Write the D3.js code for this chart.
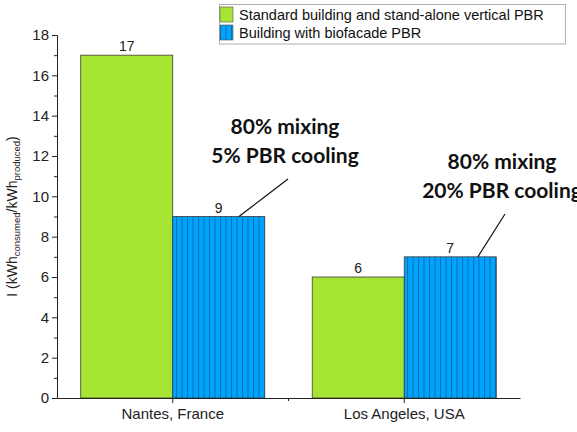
<!DOCTYPE html>
<html>
<head>
<meta charset="utf-8">
<script src="https://cdn.jsdelivr.net/npm/d3@7"></script>
<style>
  body { margin: 0; background: #fff; }
  svg { display: block; font-family: "Liberation Sans", Arial, sans-serif; }
</style>
</head>
<body>
<svg id="chart" width="577" height="432"></svg>
<script>
// Locations and the two building configurations
const locations = ["Nantes, France", "Los Angeles, USA"];
const seriesNames = ["Standard building and stand-alone vertical PBR", "Building with biofacade PBR"];
const standardValues = [17, 6];
const biofacadeValues = [9, 7];
const yTicks = [0, 2, 4, 6, 8, 10, 12, 14, 16, 18];
const yMinorTicks = [1, 3, 5, 7, 9, 11, 13, 15, 17];
const notes = [
  { loc: "Nantes, France", lines: ["80% mixing", "5% PBR cooling"] },
  { loc: "Los Angeles, USA", lines: ["80% mixing", "20% PBR cooling"] }
];

const svg = d3.select("#chart");
const margin = { left: 57, right: 57, top: 35, bottom: 34 };
const W = 577, H = 432;
const green = "#a6e533", blue = "#00a3fe";

const x = d3.scaleBand().domain(locations).range([margin.left, W - margin.right]).paddingInner(0).paddingOuter(0);
const groupW = x.bandwidth() * 0.795;
const xs = d3.scaleBand().domain([0, 1]).range([0, groupW]);
const y = d3.scaleLinear().domain([0, 18]).range([H - margin.bottom, margin.top]);

// vertical-stripe fill for the biofacade series
const defs = svg.append("defs");
const pat = defs.append("pattern").attr("id", "stripes")
  .attr("patternUnits", "userSpaceOnUse").attr("width", 5.5).attr("height", 10);
pat.append("rect").attr("width", 5.5).attr("height", 10).attr("fill", blue);
pat.append("line").attr("x1", 0.5).attr("x2", 0.5).attr("y1", 0).attr("y2", 10)
  .attr("stroke", "#0a6fae").attr("stroke-width", 1);

const fills = [green, "url(#stripes)"];
const rows = locations.map((loc, i) => ({ loc, vals: [standardValues[i], biofacadeValues[i]] }));

const g = svg.append("g");
rows.forEach(r => {
  const gx = x(r.loc) + (x.bandwidth() - groupW) / 2;
  r.vals.forEach((v, k) => {
    g.append("rect")
      .attr("x", gx + xs(k)).attr("y", y(v))
      .attr("width", xs.bandwidth()).attr("height", y(0) - y(v))
      .attr("fill", fills[k]).attr("stroke", "#3a3a3a").attr("stroke-width", 0.8);
    g.append("text")
      .attr("x", gx + xs(k) + xs.bandwidth() / 2).attr("y", y(v) - 4)
      .attr("text-anchor", "middle").attr("font-size", 14).attr("fill", "#222")
      .text(v);
  });
});

// axes
const yAxis = d3.axisLeft(y).tickValues(yTicks).tickSize(5).tickPadding(3);
const ya = svg.append("g").attr("transform", `translate(${margin.left},0)`).call(yAxis);
ya.selectAll("text").attr("font-size", 15).attr("fill", "#222").attr("font-family", "Liberation Sans, Arial, sans-serif");
ya.select(".domain").attr("stroke", "#222");
ya.selectAll(".tick line").attr("stroke", "#222");
svg.append("g").attr("transform", `translate(${margin.left},0)`)
  .call(d3.axisLeft(y).tickValues(yMinorTicks).tickSize(3).tickFormat(""))
  .call(s => s.select(".domain").remove())
  .selectAll("line").attr("stroke", "#222");

const xAxis = d3.axisBottom(x).tickSize(5).tickPadding(5).tickSizeOuter(0);
const xa = svg.append("g").attr("transform", `translate(0,${y(0)})`).call(xAxis);
xa.selectAll("text").attr("font-size", 15).attr("fill", "#222").attr("font-family", "Liberation Sans, Arial, sans-serif");
xa.select(".domain").attr("stroke", "#222");
xa.selectAll(".tick line").attr("stroke", "#222");
// minor tick between the two groups
svg.append("line")
  .attr("x1", x(locations[1])).attr("x2", x(locations[1]))
  .attr("y1", y(0)).attr("y2", y(0) + 3).attr("stroke", "#222");

// y-axis title with subscripts
const yt = svg.append("text")
  .attr("transform", `translate(17,${(y(0) + y(18)) / 2}) rotate(-90)`)
  .attr("text-anchor", "middle").attr("font-size", 14).attr("fill", "#222");
yt.append("tspan").text("I (kWh");
yt.append("tspan").attr("font-size", 9.5).attr("dy", 3).text("consumed");
yt.append("tspan").attr("dy", -3).text("/kWh");
yt.append("tspan").attr("font-size", 9.5).attr("dy", 3).text("produced");
yt.append("tspan").attr("dy", -3).text(")");

// legend
const lg = svg.append("g");
lg.append("rect").attr("x", 219.5).attr("y", 4.5).attr("width", 346).attr("height", 39.5)
  .attr("fill", "#fff").attr("stroke", "#b0b0b0");
seriesNames.forEach((name, k) => {
  lg.append("rect").attr("x", 220).attr("y", 7 + k * 18).attr("width", 13).attr("height", 15)
    .attr("fill", fills[k]).attr("stroke", "#555").attr("stroke-width", 0.6);
  lg.append("text").attr("x", 239).attr("y", 20 + k * 18)
    .attr("font-size", 14.5).attr("fill", "#111").text(name);
});

// annotations with leader lines to the biofacade bars
const notePos = [
  { tx: 285, ty: 127, lx1: 0.72, lx2: 288, ly2: 179 },
  { tx: 502, ty: 162, lx1: 0.8, lx2: 505, ly2: 214 }
];
notes.forEach((n, i) => {
  const p = notePos[i];
  const t = svg.append("text").attr("text-anchor", "middle")
    .attr("font-family", "Lato, 'Open Sans', sans-serif").attr("font-weight", "bold")
    .attr("font-size", 21).attr("fill", "#111");
  n.lines.forEach((ln, j) => {
    t.append("tspan").attr("x", p.tx).attr("y", p.ty + 7 + j * 29).text(ln);
  });
  const gx = x(n.loc) + (x.bandwidth() - groupW) / 2 + xs(1);
  const bx = gx + xs.bandwidth() * p.lx1;
  svg.append("line").attr("x1", bx).attr("y1", y(biofacadeValues[i]))
    .attr("x2", p.lx2).attr("y2", p.ly2).attr("stroke", "#111").attr("stroke-width", 1.2);
});
</script>
</body>
</html>
